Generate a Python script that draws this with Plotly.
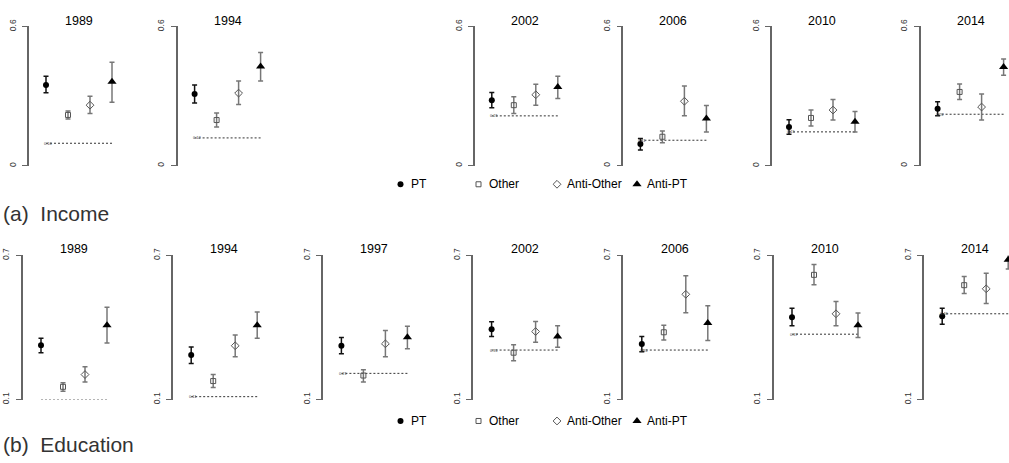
import plotly.graph_objects as go

# ---------------- data ----------------
SERIES = ["PT", "Other", "Anti-Other", "Anti-PT"]

INCOME_YEARS = ["1989", "1994", "2002", "2006", "2010", "2014"]
INCOME_SLOTS = [0, 1, 3, 4, 5, 6]
income_est = [
    [0.348, 0.219, 0.261, 0.362],
    [0.309, 0.197, 0.313, 0.428],
    [0.282, 0.261, 0.306, 0.339],
    [0.094, 0.125, 0.278, 0.204],
    [0.167, 0.206, 0.240, 0.190],
    [0.246, 0.318, 0.253, 0.425],
]
income_lo = [
    [0.315, 0.201, 0.225, 0.274],
    [0.270, 0.167, 0.264, 0.365],
    [0.250, 0.225, 0.261, 0.290],
    [0.068, 0.099, 0.215, 0.146],
    [0.136, 0.171, 0.197, 0.146],
    [0.215, 0.285, 0.197, 0.390],
]
income_hi = [
    [0.386, 0.236, 0.299, 0.446],
    [0.348, 0.227, 0.365, 0.488],
    [0.316, 0.297, 0.351, 0.386],
    [0.117, 0.150, 0.344, 0.260],
    [0.198, 0.240, 0.285, 0.234],
    [0.276, 0.352, 0.309, 0.460],
]
income_ref = [0.097, 0.120, 0.215, 0.110, 0.146, 0.222]
INCOME_TICKS = [0.0, 0.6]
INCOME_TICKTEXT = ["0", "0.6"]

EDU_YEARS = ["1989", "1994", "1997", "2002", "2006", "2010", "2014"]
EDU_SLOTS = [0, 1, 2, 3, 4, 5, 6]
edu_est = [
    [0.326, 0.153, 0.204, 0.409],
    [0.285, 0.177, 0.324, 0.409],
    [0.324, 0.200, 0.332, 0.359],
    [0.393, 0.295, 0.383, 0.362],
    [0.331, 0.380, 0.538, 0.419],
    [0.443, 0.619, 0.457, 0.409],
    [0.447, 0.576, 0.561, 0.682],
]
edu_lo = [
    [0.295, 0.135, 0.173, 0.335],
    [0.250, 0.150, 0.278, 0.355],
    [0.291, 0.173, 0.278, 0.311],
    [0.362, 0.261, 0.339, 0.318],
    [0.299, 0.348, 0.461, 0.346],
    [0.407, 0.578, 0.407, 0.358],
    [0.413, 0.541, 0.500, 0.643],
]
edu_hi = [
    [0.355, 0.170, 0.237, 0.484],
    [0.319, 0.204, 0.369, 0.464],
    [0.358, 0.224, 0.387, 0.405],
    [0.424, 0.328, 0.425, 0.407],
    [0.362, 0.409, 0.615, 0.490],
    [0.480, 0.662, 0.508, 0.460],
    [0.480, 0.612, 0.626, 0.720],
]
edu_ref = [0.099, 0.112, 0.209, 0.306, 0.306, 0.372, 0.457]
EDU_TICKS = [0.1, 0.7]
EDU_TICKTEXT = ["0.1", "0.7"]

SECTION_LABELS = ["(a)\u00a0 Income", "(b)\u00a0 Education"]

# ---------------- styles / layout constants ----------------
W, H = 1009, 463
FONT = "Liberation Sans, Arial, sans-serif"
MARKERS = {
    "PT": dict(symbol="circle", color="#000000", size=6, line=dict(width=0)),
    "Other": dict(symbol="square-open", color="#555555", size=5, line=dict(width=1, color="#555555")),
    "Anti-Other": dict(symbol="diamond-open", color="#555555", size=6, line=dict(width=1, color="#555555")),
    "Anti-PT": dict(symbol="triangle-up", color="#000000", size=8, line=dict(width=0)),
}
ERR_COLORS = {"PT": "#111111", "Other": "#777777", "Anti-Other": "#777777", "Anti-PT": "#777777"}
AXIS_COLOR = "#666666"
STEP = 22.0  # px between series

ROWS = [
    dict(years=INCOME_YEARS, slots=INCOME_SLOTS, est=income_est, lo=income_lo, hi=income_hi,
         ref=income_ref, ticks=INCOME_TICKS, ticktext=INCOME_TICKTEXT,
         pt0=46.0, pstep=148.6, offset=17.0, ytop=20, ybot=163, title_y=14,
         legend_y=182, label_y=212),
    dict(years=EDU_YEARS, slots=EDU_SLOTS, est=edu_est, lo=edu_lo, hi=edu_hi,
         ref=edu_ref, ticks=EDU_TICKS, ticktext=EDU_TICKTEXT,
         pt0=41.0, pstep=150.2, offset=18.5, ytop=255, ybot=403, title_y=248,
         legend_y=425, label_y=449),
]

fig = go.Figure()
layout = dict(
    width=W, height=H, margin=dict(l=0, r=0, t=0, b=0),
    paper_bgcolor="white", plot_bgcolor="rgba(0,0,0,0)", showlegend=False,
    font=dict(family=FONT, color="#000000"),
)
annotations = []

ax = 0
for row in ROWS:
    xs = [1, 2, 3, 4]
    for k, year in enumerate(row["years"]):
        ax += 1
        xa = "x" if ax == 1 else f"x{ax}"
        ya = "y" if ax == 1 else f"y{ax}"
        pt_px = row["pt0"] + row["pstep"] * row["slots"][k]
        left = pt_px - row["offset"]
        right = min(left + 130.0, W)
        a = 1 - row["offset"] / STEP
        b = a + (right - left) / STEP
        lay_x = dict(domain=[left / W, right / W], range=[a, b], visible=False,
                     anchor=ya, fixedrange=True)
        lay_y = dict(domain=[1 - row["ybot"] / H, 1 - row["ytop"] / H],
                     range=[row["ticks"][0], row["ticks"][1]], anchor=xa,
                     showline=True, linecolor=AXIS_COLOR, linewidth=1.5,
                     ticks="outside", ticklen=5, tickwidth=1.2, tickcolor=AXIS_COLOR,
                     tickvals=row["ticks"], ticktext=row["ticktext"], tickangle=-90,
                     tickfont=dict(size=8.5, color="#333333", family=FONT),
                     showgrid=False, zeroline=False, fixedrange=True, ticklabelstandoff=3)
        layout["xaxis" if ax == 1 else f"xaxis{ax}"] = lay_x
        layout["yaxis" if ax == 1 else f"yaxis{ax}"] = lay_y

        # reference dotted line
        ref = row["ref"][k]
        fig.add_trace(go.Scatter(x=[xs[0], xs[-1]], y=[ref, ref], mode="lines",
                                 line=dict(color="#333333", width=1, dash="2px,2px"),
                                 xaxis=xa, yaxis=ya, cliponaxis=False, hoverinfo="skip"))
        annotations.append(dict(x=xs[0], y=ref, xref=xa, yref=ya, text=f"{ref:.2f}",
                                showarrow=False, xanchor="left", xshift=-3, borderpad=0,
                                font=dict(size=4, color="#444444")))
        # series points with error bars
        for s, name in enumerate(SERIES):
            est = row["est"][k][s]
            fig.add_trace(go.Scatter(
                x=[xs[s]], y=[est], mode="markers", name=name,
                marker=MARKERS[name], xaxis=xa, yaxis=ya, cliponaxis=False,
                error_y=dict(type="data", symmetric=False,
                             array=[row["hi"][k][s] - est],
                             arrayminus=[est - row["lo"][k][s]],
                             color=ERR_COLORS[name], thickness=1.5, width=2.5),
            ))
        # panel title
        annotations.append(dict(x=2.5, y=1 - row["title_y"] / H, xref=xa, yref="paper",
                                text=year, showarrow=False, xanchor="center", yanchor="middle",
                                font=dict(size=12.5, color="#000000")))

# manual legend on a pixel-coordinate overlay axis
ax += 1
LX = f"x{ax}"
LY = f"y{ax}"
layout[f"xaxis{ax}"] = dict(domain=[0, 1], range=[0, W], visible=False, anchor=LY, fixedrange=True)
layout[f"yaxis{ax}"] = dict(domain=[0, 1], range=[H, 0], visible=False, anchor=LX, fixedrange=True)
LEGEND_X = [400.5, 478.5, 557.0, 637.0]
for row in ROWS:
    for s, name in enumerate(SERIES):
        fig.add_trace(go.Scatter(x=[LEGEND_X[s]], y=[row["legend_y"]], mode="markers",
                                 marker=MARKERS[name], xaxis=LX, yaxis=LY,
                                 cliponaxis=False, hoverinfo="skip"))
        annotations.append(dict(x=LEGEND_X[s] + 8, y=row["legend_y"], xref=LX, yref=LY,
                                text=name, showarrow=False, xanchor="left", yanchor="middle",
                                font=dict(size=12, color="#000000")))

for lbl, row in zip(SECTION_LABELS, ROWS):
    annotations.append(dict(x=1, y=row["label_y"], xref=LX, yref=LY, text=lbl,
                            showarrow=False, xanchor="left", yanchor="middle",
                            font=dict(size=21, color="#333333")))

layout["annotations"] = annotations
fig.update_layout(**layout)
fig.write_html("out.html", config=dict(displayModeBar=False))
